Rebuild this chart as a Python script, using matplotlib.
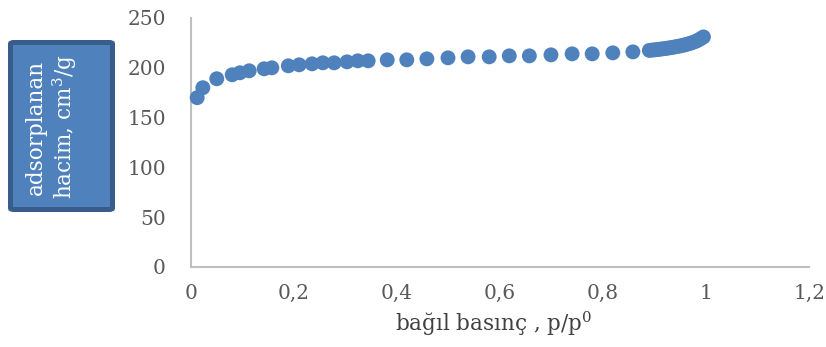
import matplotlib
matplotlib.use("Agg")
import matplotlib.pyplot as plt
from matplotlib.patches import FancyBboxPatch

# relative pressure p/p0 and adsorbed volume (cm3/g)
p_rel = [0.012, 0.023, 0.050, 0.080, 0.095, 0.113, 0.142, 0.157, 0.189, 0.210,
         0.235, 0.256, 0.278, 0.303, 0.324, 0.344, 0.381, 0.419, 0.458, 0.499,
         0.538, 0.579, 0.618, 0.657, 0.699, 0.740, 0.779, 0.819, 0.858,
         0.890, 0.895, 0.900, 0.905, 0.910, 0.915, 0.920, 0.925, 0.930, 0.935,
         0.940, 0.945, 0.950, 0.955, 0.960, 0.965, 0.970, 0.975, 0.980, 0.985,
         0.990, 0.995]
volume = [170, 180, 189, 193, 195, 197, 199, 200, 202, 203,
          204, 205, 205, 206, 207, 207, 208, 208, 209, 210,
          211, 211, 212, 212, 213, 214, 214, 215, 216,
          217.5, 217.8, 218.0, 218.3, 218.6, 219.0, 219.3, 219.7, 220.1, 220.5,
          221.0, 221.5, 222.0, 222.6, 223.2, 223.9, 224.7, 225.6, 226.6, 227.8,
          229.3, 231.0]

xticks = [0, 0.2, 0.4, 0.6, 0.8, 1, 1.2]
xtick_labels = ["0", "0,2", "0,4", "0,6", "0,8", "1", "1,2"]
yticks = [0, 50, 100, 150, 200, 250]
ytitle_lines = ["adsorplanan", "hacim, cm$^3$/g"]

plt.rcParams['font.family'] = ['DejaVu Serif']
plt.rcParams['mathtext.fontset'] = 'dejavuserif'

W, H = 826, 347
fig = plt.figure(figsize=(W / 100, H / 100), dpi=100)
ax = fig.add_axes([191 / W, 1 - 267 / H, (809 - 191) / W, (267 - 18) / H])

ax.scatter(p_rel, volume, s=115, color='#4F81BD', edgecolors='none', zorder=3, clip_on=False)

ax.set_xlim(0, 1.2)
ax.set_ylim(0, 250)
ax.set_xticks(xticks)
ax.set_xticklabels(xtick_labels)
ax.set_yticks(yticks)
ax.tick_params(length=0, labelsize=14.5, colors='#595959', pad=12)
ax.tick_params(axis='y', pad=18)
for s in ['top', 'right']:
    ax.spines[s].set_visible(False)
for s in ['left', 'bottom']:
    ax.spines[s].set_color('#BFBFBF')
    ax.spines[s].set_linewidth(1.5)

ax.set_xlabel("bağıl basınç , p/p$^0$", fontsize=15.5, color='#404040')
ax.xaxis.set_label_coords((494 - 191) / (809 - 191), -(309 - 267) / (267 - 18))

# y-axis title drawn as a filled box
box = FancyBboxPatch((10.5 / W, 1 - 209.5 / H), 102 / W, 167 / H,
                     boxstyle="round,pad=0,rounding_size=0.004",
                     transform=fig.transFigure, facecolor='#4F81BD',
                     edgecolor='#385D8A', linewidth=3.6, zorder=5)
fig.patches.append(box)
for xc, line in zip([36, 65], ytitle_lines):
    fig.text(xc / W, 1 - 127 / H, line, rotation=90, ha='center', va='center',
             color='white', fontsize=15.5, zorder=6)

fig.savefig("out.png", dpi=100)
